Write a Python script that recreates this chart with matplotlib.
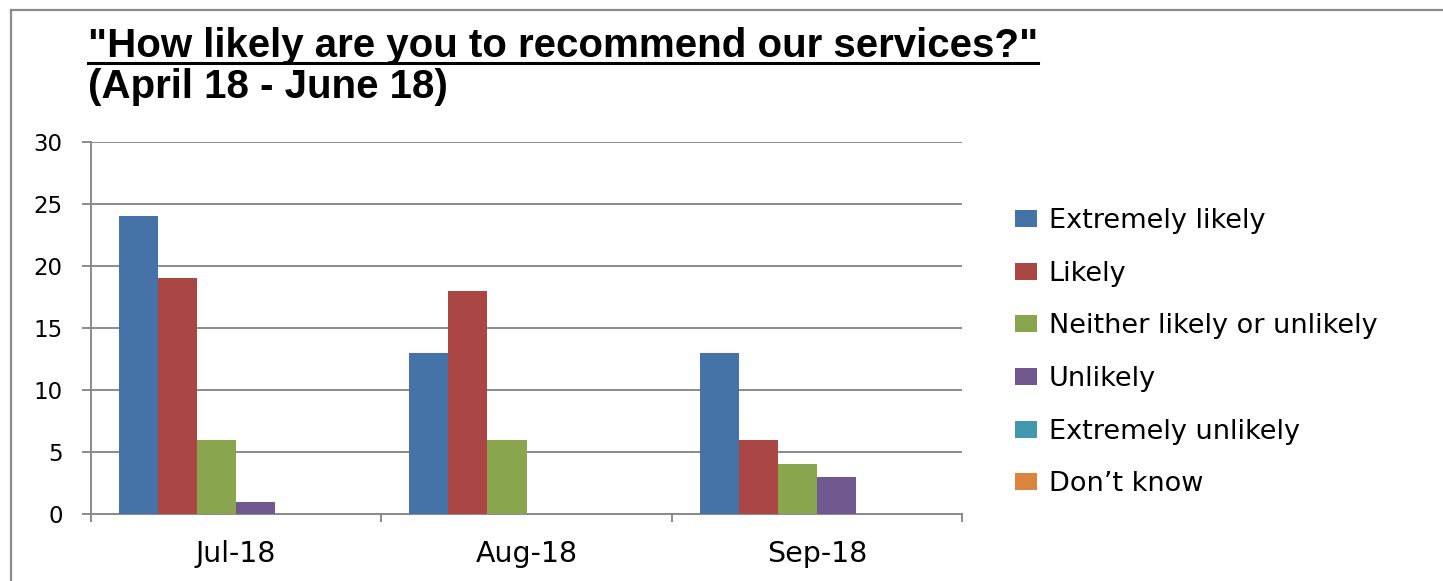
import matplotlib
matplotlib.use("Agg")
import matplotlib.pyplot as plt
from matplotlib.lines import Line2D
import numpy as np

categories = ["Jul-18", "Aug-18", "Sep-18"]
series_names = ["Extremely likely", "Likely", "Neither likely or unlikely",
                "Unlikely", "Extremely unlikely", "Don\u2019t know"]
extremely_likely = [24, 13, 13]
likely = [19, 18, 6]
neither = [6, 6, 4]
unlikely = [1, 0, 3]
extremely_unlikely = [0, 0, 0]
dont_know = [0, 0, 0]
series_values = [extremely_likely, likely, neither, unlikely, extremely_unlikely, dont_know]
colors = ["#4572A7", "#AA4643", "#89A54E", "#71588F", "#4198AF", "#DB843D"]
y_ticks = [0, 5, 10, 15, 20, 25, 30]
title_line1 = "\"How likely are you to recommend our services?\""
title_line2 = "(April 18 - June 18)"

W, H = 1443, 581
fig = plt.figure(figsize=(W / 100, H / 100), dpi=100)
fig.patch.set_facecolor("white")

ax = fig.add_axes([91 / W, 1 - 514 / H, (962 - 91) / W, (514 - 142) / H])
x = np.arange(len(categories))
n = len(series_names)
bw = 39 / 290.3
handles = []
for i, (name, vals, c) in enumerate(zip(series_names, series_values, colors)):
    b = ax.bar(x + (i - (n - 1) / 2) * bw, vals, width=bw, color=c, label=name,
               linewidth=0, zorder=3)
    handles.append(b)

ax.set_xlim(-0.5, len(categories) - 0.5)
ax.set_ylim(0, 30)
ax.set_yticks(y_ticks)
ax.set_xticks(x)
ax.set_xticklabels(categories)
ax.set_xticks(np.arange(len(categories) + 1) - 0.5, minor=True)

grid_c = "#8a8a8a"
ax.yaxis.grid(True, color=grid_c, linewidth=1.4, zorder=0)
ax.set_axisbelow(True)
for s in ["top", "right"]:
    ax.spines[s].set_visible(False)
for s in ["left", "bottom"]:
    ax.spines[s].set_color(grid_c)
    ax.spines[s].set_linewidth(1.4)

ax.tick_params(axis="y", which="major", length=6.5, width=1.4, color=grid_c,
               pad=14, labelsize=16.5, labelcolor="black")
ax.tick_params(axis="x", which="major", length=0, pad=18.5, labelsize=20.5, labelcolor="black")
ax.tick_params(axis="x", which="minor", length=6, width=1.4, color=grid_c)
for lab in ax.get_xticklabels() + ax.get_yticklabels():
    lab.set_fontfamily("DejaVu Sans")

leg = ax.legend(handles=handles, loc="upper left",
                bbox_to_anchor=(1015 / W, 1 - 208 / H), bbox_transform=fig.transFigure,
                frameon=False, fontsize=19.5, handlelength=0.82, handleheight=0.6,
                handletextpad=0.42, labelspacing=0.985, borderpad=0, borderaxespad=0)
for t in leg.get_texts():
    t.set_fontfamily("DejaVu Sans")

t1 = fig.text(88 / W, 1 - 57 / H, title_line1, fontsize=29, fontweight="bold",
              fontfamily="Liberation Sans", va="baseline", ha="left")
t2 = fig.text(88 / W, 1 - 98 / H, title_line2, fontsize=29, fontweight="bold",
              fontfamily="Liberation Sans", va="baseline", ha="left")

fig.canvas.draw()
bb = t1.get_window_extent()
uy = 1 - 63 / H
fig.add_artist(Line2D([bb.x0 / W, bb.x1 / W], [uy, uy], color="black", linewidth=2.2,
                      transform=fig.transFigure))

# outer border (left and top)
fig.add_artist(Line2D([10.5 / W, 10.5 / W], [0, 1 - 9.5 / H], color=grid_c, linewidth=1.6,
                      transform=fig.transFigure))
fig.add_artist(Line2D([10.5 / W, 1], [1 - 9.5 / H, 1 - 9.5 / H], color=grid_c, linewidth=1.6,
                      transform=fig.transFigure))

fig.savefig("out.png", dpi=100, facecolor="white")
